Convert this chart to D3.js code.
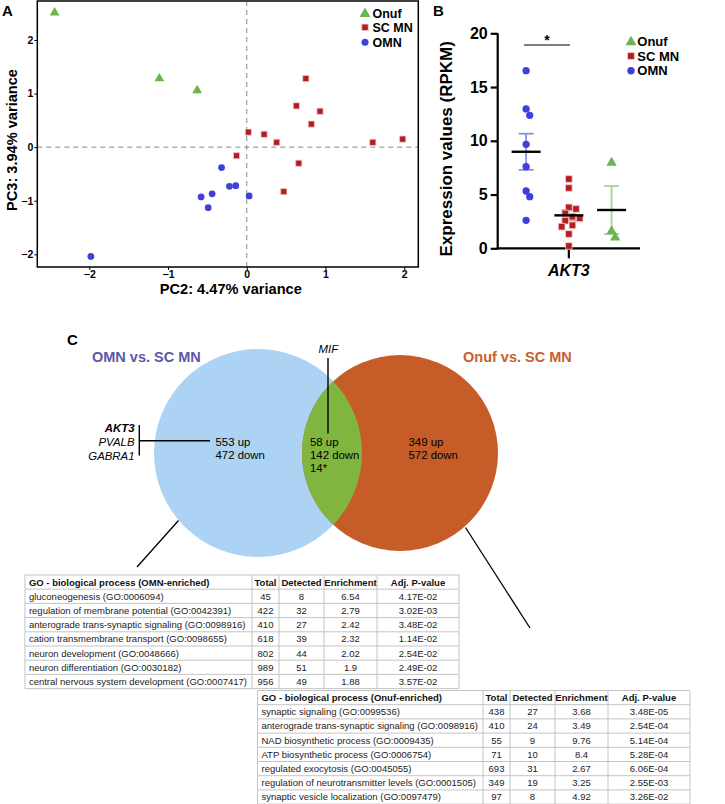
<!DOCTYPE html>
<html><head><meta charset="utf-8">
<script src="https://cdn.jsdelivr.net/npm/d3@7"></script>
<style>
body{margin:0;background:#fff}
svg{display:block}
text{font-family:"Liberation Sans",Arial,Helvetica,sans-serif}
</style>
</head><body>
<svg id="fig" width="725" height="804"></svg>
<script>
// ---------------- DATA ----------------
const groupNames = ["Onuf", "SC MN", "OMN"];
// PCA (PC2, PC3)
const pcaOnuf = [[-2.44, 2.52], [-1.11, 1.29], [-0.63, 1.07]];
const pcaSCMN = [[0.75, 1.28], [0.63, 0.77], [0.93, 0.67], [0.82, 0.43], [0.02, 0.28], [0.22, 0.24],
                 [0.38, 0.09], [1.60, 0.09], [1.98, 0.15], [-0.13, -0.16], [0.66, -0.30], [0.47, -0.83]];
const pcaOMN = [[-0.32, -0.38], [-0.22, -0.73], [-0.14, -0.72], [-0.44, -0.87], [-0.58, -0.93],
                [-0.49, -1.13], [0.03, -0.91], [-1.98, -2.04]];
const pcaXTicks = [-2, -1, 0, 1, 2];
const pcaYTicks = [-2, -1, 0, 1, 2];
const pcaXLabel = "PC2: 4.47% variance";
const pcaYLabel = "PC3: 3.94% variance";

// AKT3 expression (RPKM)
const akt3OMN = [16.52, 12.96, 12.37, 9.67, 7.59, 5.33, 4.80, 2.60];
const akt3SCMN = [6.45, 5.61, 3.81, 3.66, 3.25, 2.94, 2.79, 2.57, 2.14, 2.01, 1.33, 0.21];
const akt3Onuf = [8.0, 1.64, 1.05];
const exprTicks = [0, 5, 10, 15, 20];
const exprGroupsOrder = ["OMN", "SC MN", "Onuf"];

// Venn
const vennLeftTitle = "OMN vs. SC MN";
const vennRightTitle = "Onuf vs. SC MN";
const vennLeftCounts = ["553 up", "472 down"];
const vennMidCounts = ["58 up", "142 down", "14*"];
const vennRightCounts = ["349 up", "572 down"];
const vennLeftGenes = ["AKT3", "PVALB", "GABRA1"];
const vennMidGene = "MIF";

// GO tables
const tableHeaders = ["Total", "Detected", "Enrichment", "Adj. P-value"];
const omnTitle = "GO - biological process (OMN-enriched)";
const omnTerms = ["gluconeogenesis (GO:0006094)", "regulation of membrane potential (GO:0042391)",
  "anterograde trans-synaptic signaling (GO:0098916)", "cation transmembrane transport (GO:0098655)",
  "neuron development (GO:0048666)", "neuron differentiation (GO:0030182)",
  "central nervous system development (GO:0007417)"];
const omnTotal = [45, 422, 410, 618, 802, 989, 956];
const omnDetected = [8, 32, 27, 39, 44, 51, 49];
const omnEnrich = ["6.54", "2.79", "2.42", "2.32", "2.02", "1.9", "1.88"];
const omnPadj = ["4.17E-02", "3.02E-03", "3.48E-02", "1.14E-02", "2.54E-02", "2.49E-02", "3.57E-02"];

const onufTitle = "GO - biological process (Onuf-enriched)";
const onufTerms = ["synaptic signaling (GO:0099536)", "anterograde trans-synaptic signaling (GO:0098916)",
  "NAD biosynthetic process (GO:0009435)", "ATP biosynthetic process (GO:0006754)",
  "regulated exocytosis (GO:0045055)", "regulation of neurotransmitter levels (GO:0001505)",
  "synaptic vesicle localization (GO:0097479)"];
const onufTotal = [438, 410, 55, 71, 693, 349, 97];
const onufDetected = [27, 24, 9, 10, 31, 19, 8];
const onufEnrich = ["3.68", "3.49", "9.76", "8.4", "2.67", "3.25", "4.92"];
const onufPadj = ["3.48E-05", "2.54E-04", "5.14E-04", "5.28E-04", "6.06E-04", "2.55E-03", "3.26E-02"];

// ---------------- STYLE ----------------
const col = {
  Onuf: "#6ab550", "SC MN": "#b31f1f", OMN: "#3f3fd9",
  OnufErr: "#a5d494", "SC MNErr": "#e39a9a", OMNErr: "#8e8ee8",
  vennBlue: "#acd3f3", vennOrange: "#c65d29", vennGreen: "#80b63f",
  titleBlue: "#5a5aa8", titleOrange: "#c8602c"
};
const shape = { Onuf: d3.symbolTriangle, "SC MN": d3.symbolSquare, OMN: d3.symbolCircle };
const minusFmt = d => (d < 0 ? "\u2212" : "") + Math.abs(d);

const svg = d3.select("#fig");
svg.append("rect").attr("width", 725).attr("height", 804).attr("fill", "#fff");

function marker(g, grp, x, y, scale = 1) {
  const sizes = { Onuf: 26, "SC MN": 38, OMN: 36 };
  const p = g.append("path")
    .attr("d", d3.symbol().type(shape[grp]).size(sizes[grp] * scale)())
    .attr("transform", `translate(${x},${y + (grp === "Onuf" ? 0.5 : 0)})`)
    .attr("fill", col[grp]);
  if (grp === "SC MN") p.attr("stroke", "#f1c9c9").attr("stroke-width", 0.8);
  return p;
}

// ---------------- PANEL A ----------------
(function () {
  const g = svg.append("g");
  const L = 37.3, R = 418.3, T = 1, B = 267;
  const x = d3.scaleLinear().domain([-2.66, 2.178]).range([L, R]);
  const y = d3.scaleLinear().domain([-2.237, 2.728]).range([B, T]);

  g.append("text").attr("x", 2).attr("y", 15.5).attr("font-size", 15).attr("font-weight", "bold").text("A");

  g.append("line").attr("x1", x(0)).attr("x2", x(0)).attr("y1", T).attr("y2", B)
    .attr("stroke", "#8a8a8a").attr("stroke-width", 1).attr("stroke-dasharray", "5,4");
  g.append("line").attr("x1", L).attr("x2", R).attr("y1", y(0)).attr("y2", y(0))
    .attr("stroke", "#8a8a8a").attr("stroke-width", 1).attr("stroke-dasharray", "5,4");

  const xa = g.append("g").attr("transform", `translate(0,${B})`)
    .call(d3.axisBottom(x).tickValues(pcaXTicks).tickFormat(minusFmt).tickSize(3).tickPadding(1));
  const ya = g.append("g").attr("transform", `translate(${L},0)`)
    .call(d3.axisLeft(y).tickValues(pcaYTicks).tickFormat(minusFmt).tickSize(3).tickPadding(1));
  [xa, ya].forEach(a => {
    a.select(".domain").remove();
    a.selectAll("text").attr("font-size", 10.5).attr("font-weight", "bold").attr("fill", "#000")
      .attr("font-family", '"Liberation Sans",Arial,sans-serif');
    a.selectAll("line").attr("stroke", "#000");
  });

  g.append("rect").attr("x", L).attr("y", T).attr("width", R - L).attr("height", B - T)
    .attr("fill", "none").attr("stroke", "#000").attr("stroke-width", 1.5);

  pcaOnuf.forEach(d => marker(g, "Onuf", x(d[0]), y(d[1]), 1.6));
  pcaSCMN.forEach(d => marker(g, "SC MN", x(d[0]), y(d[1])));
  pcaOMN.forEach(d => marker(g, "OMN", x(d[0]), y(d[1])));

  g.append("text").attr("x", (L + R) / 2 + 3).attr("y", 294).attr("text-anchor", "middle")
    .attr("font-size", 14.6).attr("font-weight", "bold").text(pcaXLabel);
  g.append("text").attr("transform", `translate(17,${(T + B) / 2 + 6}) rotate(-90)`).attr("text-anchor", "middle")
    .attr("font-size", 14.6).attr("font-weight", "bold").text(pcaYLabel);

  const ly = [13.3, 27.3, 42.3];
  groupNames.forEach((n, i) => {
    marker(g, n, 365, ly[i], n === "Onuf" ? 2 : 1.1);
    g.append("text").attr("x", 372.5).attr("y", ly[i] + 4.5).attr("font-size", 12.5)
      .attr("font-weight", "bold").text(n);
  });
})();

// ---------------- PANEL B ----------------
(function () {
  const g = svg.append("g");
  const L = 497.7, R = 640, B = 248.3, T = 33.3;
  const y = d3.scaleLinear().domain([0, 20]).range([B, T]);
  const x = d3.scalePoint().domain(exprGroupsOrder).range([L, R]).padding(0.665);

  g.append("text").attr("x", 433).attr("y", 15.5).attr("font-size", 15).attr("font-weight", "bold").text("B");

  const ya = g.append("g").attr("transform", `translate(${L},0)`)
    .call(d3.axisLeft(y).tickValues(exprTicks).tickSize(7).tickPadding(3));
  ya.select(".domain").attr("stroke-width", 2.2).attr("d", `M0,${T}V${B + 1}`);
  ya.selectAll(".tick line").attr("stroke-width", 2.2);
  ya.selectAll("text").attr("font-size", 16).attr("font-weight", "bold").attr("fill", "#000")
    .attr("font-family", '"Liberation Sans",Arial,sans-serif');

  g.append("line").attr("x1", L - 1).attr("x2", R).attr("y1", B).attr("y2", B).attr("stroke", "#000").attr("stroke-width", 2.2);
  g.append("line").attr("x1", x("SC MN")).attr("x2", x("SC MN")).attr("y1", B).attr("y2", B + 10)
    .attr("stroke", "#000").attr("stroke-width", 2.2);
  g.append("text").attr("x", x("SC MN")).attr("y", 275.5).attr("text-anchor", "middle")
    .attr("font-size", 16).attr("font-weight", "bold").attr("font-style", "italic").text("AKT3");

  g.append("text").attr("transform", `translate(452,${(T + B) / 2 + 8}) rotate(-90)`).attr("text-anchor", "middle")
    .attr("font-size", 17).attr("font-weight", "bold").text("Expression values (RPKM)");

  const data = { OMN: akt3OMN, "SC MN": akt3SCMN, Onuf: akt3Onuf };

  function swarm(values, cx) {
    const step = 3.6, dia = 6.6;
    const order = values.map((v, i) => i).sort((a, b) => values[b] - values[a]);
    const placed = [], xs = [];
    const cands = [0];
    for (let j = 1; j < 12; j++) cands.push(j * step, -j * step);
    order.forEach(i => {
      const py = y(values[i]);
      for (const off of cands) {
        if (placed.every(p => Math.hypot(p.x - (cx + off), p.y - py) >= dia)) {
          xs[i] = cx + off; placed.push({ x: cx + off, y: py }); break;
        }
      }
    });
    return xs;
  }

  exprGroupsOrder.forEach(grp => {
    const vals = data[grp];
    const cx = x(grp);
    const m = d3.mean(vals);
    const sem = d3.deviation(vals) / Math.sqrt(vals.length);
    const eg = g.append("g").attr("stroke", col[grp + "Err"]).attr("stroke-width", 1.8);
    eg.append("line").attr("x1", cx).attr("x2", cx).attr("y1", y(m + sem)).attr("y2", y(m - sem));
    [m + sem, m - sem].forEach(v => eg.append("line").attr("x1", cx - 7.5).attr("x2", cx + 7.5).attr("y1", y(v)).attr("y2", y(v)));
    const xs = swarm(vals, cx);
    vals.forEach((v, i) => marker(g, grp, xs[i], y(v), grp === "Onuf" ? 1.8 : 1.15));
    g.append("line").attr("x1", cx - 14.5).attr("x2", cx + 14.5).attr("y1", y(m)).attr("y2", y(m))
      .attr("stroke", "#000").attr("stroke-width", 2.4);
  });

  g.append("line").attr("x1", 524).attr("x2", 570).attr("y1", 45).attr("y2", 45).attr("stroke", "#000").attr("stroke-width", 1.1);
  g.append("text").attr("x", 547).attr("y", 45).attr("text-anchor", "middle").attr("font-size", 14).attr("font-weight", "bold").text("*");

  const ly = [41.7, 56, 70.7];
  groupNames.forEach((n, i) => {
    marker(g, n, 631, ly[i], n === "Onuf" ? 2 : 1.2);
    g.append("text").attr("x", 637.3).attr("y", ly[i] + 4.7).attr("font-size", 13)
      .attr("font-weight", "bold").text(n);
  });
})();

// ---------------- PANEL C : VENN ----------------
(function () {
  const g = svg.append("g");
  g.append("text").attr("x", 67).attr("y", 344.5).attr("font-size", 15).attr("font-weight", "bold").text("C");

  const left = { cx: 258, cy: 453, r: 104 }, right = { cx: 400, cy: 453, r: 98 };
  g.append("line").attr("x1", 178.5).attr("y1", 520.5).attr("x2", 137).attr("y2", 567)
    .attr("stroke", "#000").attr("stroke-width", 1.3);
  g.append("line").attr("x1", 465.5).attr("y1", 527.5).attr("x2", 530).attr("y2", 628)
    .attr("stroke", "#000").attr("stroke-width", 1.3);

  g.append("circle").attr("cx", left.cx).attr("cy", left.cy).attr("r", left.r).attr("fill", col.vennBlue);
  g.append("circle").attr("cx", right.cx).attr("cy", right.cy).attr("r", right.r).attr("fill", col.vennOrange);
  const defs = svg.append("defs");
  defs.append("clipPath").attr("id", "clipL").append("circle").attr("cx", left.cx).attr("cy", left.cy).attr("r", left.r);
  g.append("circle").attr("cx", right.cx).attr("cy", right.cy).attr("r", right.r).attr("fill", col.vennGreen)
    .attr("clip-path", "url(#clipL)");

  g.append("text").attr("x", 92).attr("y", 362).attr("font-size", 14.5).attr("font-weight", "bold")
    .attr("fill", col.titleBlue).text(vennLeftTitle);
  g.append("text").attr("x", 463).attr("y", 362).attr("font-size", 14.5).attr("font-weight", "bold")
    .attr("fill", col.titleOrange).text(vennRightTitle);

  const fs = 11.4, lh = 13.3, base = 445.6;
  vennLeftCounts.forEach((t, i) => g.append("text").attr("x", 215.5).attr("y", base + i * lh).attr("font-size", fs).text(t));
  vennMidCounts.forEach((t, i) => g.append("text").attr("x", 310).attr("y", base + i * lh).attr("font-size", fs).text(t));
  vennRightCounts.forEach((t, i) => g.append("text").attr("x", 408.5).attr("y", base + i * lh).attr("font-size", fs).text(t));

  vennLeftGenes.forEach((t, i) => g.append("text").attr("x", 134.5).attr("y", 431.8 + i * 14)
    .attr("text-anchor", "end").attr("font-size", fs).attr("font-style", "italic")
    .attr("font-weight", i === 0 ? "bold" : "normal").text(t));
  g.append("line").attr("x1", 139.3).attr("x2", 139.3).attr("y1", 425).attr("y2", 455.5).attr("stroke", "#000").attr("stroke-width", 1.4);
  g.append("line").attr("x1", 139.3).attr("x2", 210).attr("y1", 440.7).attr("y2", 440.7).attr("stroke", "#000").attr("stroke-width", 1.4);

  g.append("text").attr("x", 328.3).attr("y", 352.5).attr("text-anchor", "middle").attr("font-size", fs)
    .attr("font-style", "italic").text(vennMidGene);
  g.append("line").attr("x1", 328).attr("x2", 328).attr("y1", 358).attr("y2", 433.5).attr("stroke", "#000").attr("stroke-width", 1.4);
})();

// ---------------- TABLES ----------------
function drawTable(title, terms, cols, splitX, top) {
  const g = svg.append("g");
  const fs = 9.5, rh = 14.2;
  const widths = [27, 45, 53, 82];
  const meas = g.append("text").attr("font-size", fs);
  let maxw = 0;
  terms.forEach(t => { meas.text(t); maxw = Math.max(maxw, meas.node().getComputedTextLength()); });
  meas.attr("font-weight", "bold").text(title); maxw = Math.max(maxw, meas.node().getComputedTextLength());
  meas.remove();
  const left = splitX - maxw - 9;
  const xs = [left, splitX];
  widths.forEach(w => xs.push(xs[xs.length - 1] + w));
  const nRows = terms.length + 1;
  const bottom = top + nRows * rh;
  const stroke = "#c4c4c4";
  for (let r = 0; r <= nRows; r++) {
    g.append("line").attr("x1", left).attr("x2", xs[xs.length - 1]).attr("y1", top + r * rh).attr("y2", top + r * rh)
      .attr("stroke", stroke).attr("stroke-width", 1);
  }
  xs.forEach(xv => g.append("line").attr("x1", xv).attr("x2", xv).attr("y1", top).attr("y2", bottom)
    .attr("stroke", stroke).attr("stroke-width", 1));
  const ty = r => top + r * rh + rh / 2 + 3.4;
  g.append("text").attr("x", left + 4).attr("y", ty(0)).attr("font-size", fs).attr("font-weight", "bold").attr("fill", "#111").text(title);
  tableHeaders.forEach((h, c) => g.append("text").attr("x", (xs[c + 1] + xs[c + 2]) / 2).attr("y", ty(0))
    .attr("text-anchor", "middle").attr("font-size", fs).attr("font-weight", "bold").attr("fill", "#111").text(h));
  terms.forEach((t, r) => {
    g.append("text").attr("x", left + 4).attr("y", ty(r + 1)).attr("font-size", fs).attr("fill", "#222").text(t);
    cols.forEach((arr, c) => g.append("text").attr("x", (xs[c + 1] + xs[c + 2]) / 2).attr("y", ty(r + 1))
      .attr("text-anchor", "middle").attr("font-size", fs).attr("fill", "#222").text(arr[r]));
  });
}
drawTable(omnTitle, omnTerms, [omnTotal, omnDetected, omnEnrich, omnPadj], 252, 575);
drawTable(onufTitle, onufTerms, [onufTotal, onufDetected, onufEnrich, onufPadj], 483, 690.5);
</script>
</body></html>
